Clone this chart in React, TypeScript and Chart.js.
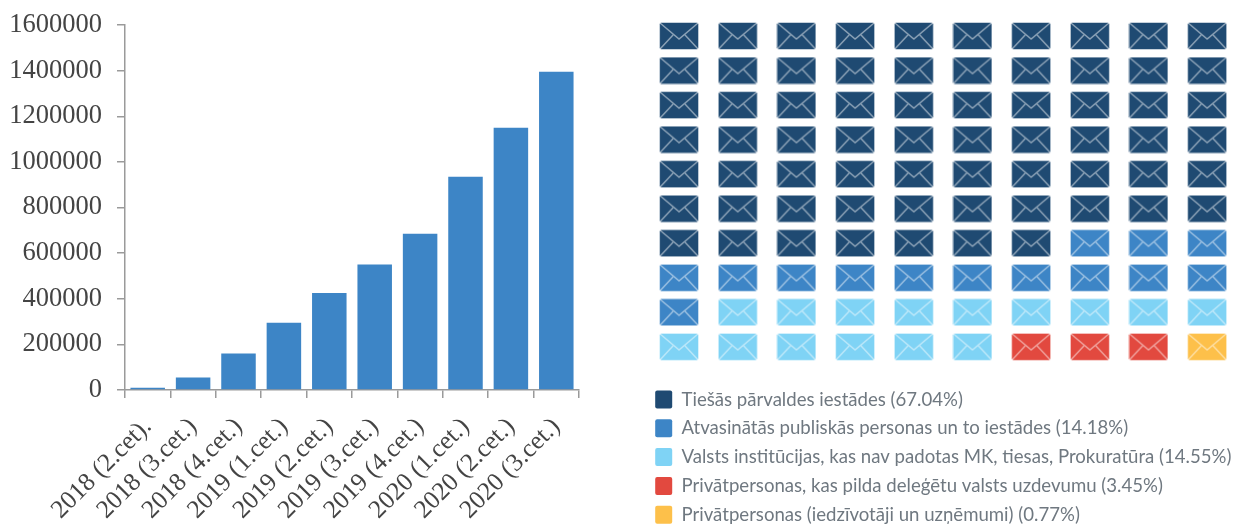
import React, { useEffect, useRef } from "react";
import { Chart, registerables } from "chart.js";

Chart.register(...registerables);

const quarters = [
  "2018 (2.cet).", "2018 (3.cet.)", "2018 (4.cet.)", "2019 (1.cet.)", "2019 (2.cet.)",
  "2019 (3.cet.)", "2019 (4.cet.)", "2020 (1.cet.)", "2020 (2.cet.)", "2020 (3.cet.)",
];
const documentCounts = [10000, 55000, 160000, 295000, 425000, 550000, 685000, 935000, 1150000, 1395000];

const senderLabels = [
  "Tiešās pārvaldes iestādes (67.04%)",
  "Atvasinātās publiskās personas un to iestādes (14.18%)",
  "Valsts institūcijas, kas nav padotas MK, tiesas, Prokuratūra (14.55%)",
  "Privātpersonas, kas pilda deleģētu valsts uzdevumu (3.45%)",
  "Privātpersonas (iedzīvotāji un uzņēmumi) (0.77%)",
];
const senderIcons = [67, 14, 15, 3, 1];
const senderColors = ["#1f4a72", "#3d85c6", "#7fd3f5", "#e2493f", "#fdc04a"];
const GRID_SIZE = 10;

function envelope(color: string): HTMLCanvasElement {
  const c = document.createElement("canvas");
  c.width = 40;
  c.height = 28;
  const g = c.getContext("2d")!;
  g.fillStyle = color;
  g.beginPath();
  g.roundRect(0.5, 0.5, 39, 27, 2);
  g.fill();
  g.strokeStyle = "rgba(255,255,255,0.5)";
  g.lineWidth = 1;
  g.stroke();
  g.lineWidth = 1.4;
  g.beginPath();
  g.moveTo(1, 1);
  g.lineTo(20, 17);
  g.lineTo(39, 1);
  g.moveTo(1, 27);
  g.lineTo(14, 13);
  g.moveTo(39, 27);
  g.lineTo(26, 13);
  g.stroke();
  return c;
}

function waffleDatasets() {
  let cell = 0;
  return senderLabels.map((label, i) => {
    const data: { x: number; y: number }[] = [];
    for (let n = 0; n < senderIcons[i]; n++, cell++) {
      data.push({ x: cell % GRID_SIZE, y: Math.floor(cell / GRID_SIZE) });
    }
    return {
      label,
      data,
      backgroundColor: senderColors[i],
      borderColor: senderColors[i],
      borderWidth: 0,
      pointStyle: envelope(senderColors[i]),
      pointRadius: 20,
      clip: false as const,
    };
  });
}

export default function App() {
  const barRef = useRef<HTMLCanvasElement>(null);
  const waffleRef = useRef<HTMLCanvasElement>(null);

  useEffect(() => {
    const axisColor = "#9a9a9a";
    const textColor = "#444444";
    const bar = new Chart(barRef.current!, {
      type: "bar",
      data: {
        labels: quarters,
        datasets: [{
          data: documentCounts,
          backgroundColor: "#3d85c6",
          barPercentage: 0.76,
          categoryPercentage: 1,
        }],
      },
      options: {
        animation: false,
        responsive: false,
        layout: { autoPadding: false, padding: { top: 25, right: 41, left: 0, bottom: 0 } },
        plugins: { legend: { display: false }, tooltip: { enabled: false } },
        scales: {
          x: {
            afterFit: (s: any) => { s.height = 134; },
            border: { color: axisColor, width: 1.5 },
            grid: { offset: true, drawOnChartArea: false, drawTicks: true, tickLength: 8, color: axisColor, lineWidth: 1.5 },
            ticks: {
              autoSkip: false,
              maxRotation: 45,
              minRotation: 45,
              padding: 14,
              color: textColor,
              font: { family: "'Liberation Serif'", size: 25.5 },
            },
          },
          y: {
            min: 0,
            max: 1600000,
            afterFit: (s: any) => { s.width = 125; s.paddingTop = 0; s.paddingBottom = 0; },
            border: { color: axisColor, width: 1.5 },
            grid: { drawOnChartArea: false, drawTicks: true, tickLength: 8, color: axisColor, lineWidth: 1.5 },
            ticks: {
              stepSize: 200000,
              padding: 15,
              color: textColor,
              font: { family: "'Liberation Serif'", size: 26.5 },
              callback: (v: any) => String(v),
            },
          },
        },
      },
    });

    const waffle = new Chart(waffleRef.current!, {
      type: "scatter",
      data: { datasets: waffleDatasets() },
      options: {
        animation: false,
        responsive: false,
        layout: { autoPadding: false },
        plugins: {
          tooltip: { enabled: false },
          legend: {
            position: "bottom",
            align: "start",
            labels: {
              boxWidth: 17,
              boxHeight: 18,
              padding: 10.2,
              useBorderRadius: true,
              borderRadius: 2,
              color: "#6f7880",
              font: { family: "Lato", size: 18.6 },
            },
          },
        },
        scales: {
          x: { type: "linear", display: false, min: -0.58, max: 9.44 },
          y: { type: "linear", display: false, min: -1.042, max: 9.96, reverse: true },
        },
      },
    });

    return () => {
      bar.destroy();
      waffle.destroy();
    };
  }, []);

  return (
    <div style={{ position: "absolute", left: 0, top: 0, width: 1233, height: 524, overflow: "hidden" }}>
      <canvas ref={barRef} width={620} height={524} style={{ position: "absolute", left: 0, top: 0 }} />
      <canvas ref={waffleRef} width={588} height={534} style={{ position: "absolute", left: 645, top: 0 }} />
    </div>
  );
}
